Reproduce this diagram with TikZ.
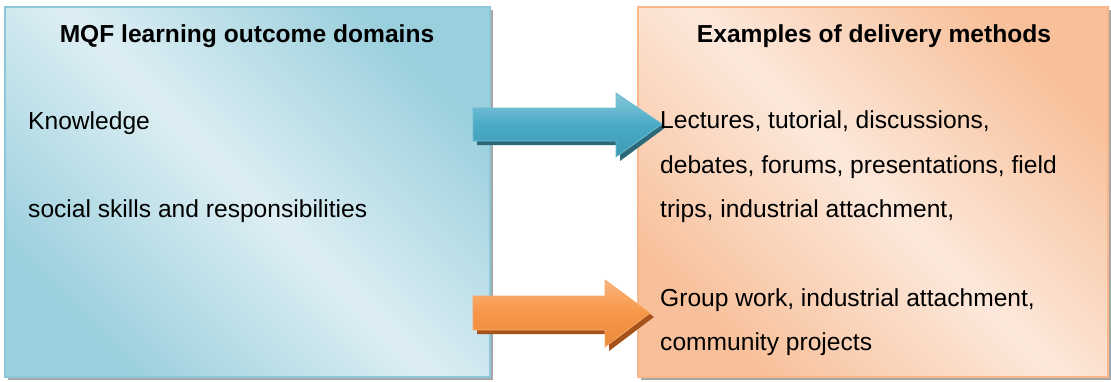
\documentclass[tikz,border=0pt]{standalone}
\usepackage{fontspec}
\setmainfont{Liberation Sans}
\usetikzlibrary{shadings}
\definecolor{bluedark}{HTML}{9ACFDD}
\definecolor{bluelight}{HTML}{DDEEF3}
\definecolor{blueborder}{HTML}{8DC8D8}
\definecolor{orgdark}{HTML}{F8C09A}
\definecolor{orglight}{HTML}{FCE8DB}
\definecolor{orgborder}{HTML}{F6B88C}
\definecolor{barrtop}{HTML}{86C8DA}
\definecolor{barrmid}{HTML}{4AAAC5}
\definecolor{barrbot}{HTML}{3E9AB4}
\definecolor{barrline}{HTML}{6FBDD2}
\definecolor{barrshadow}{HTML}{2C6878}
\definecolor{oarrtop}{HTML}{FAB47E}
\definecolor{oarrmid}{HTML}{F79646}
\definecolor{oarrbot}{HTML}{EC8A3C}
\definecolor{oarrline}{HTML}{F9AA6A}
\definecolor{oarrshadow}{HTML}{A5521B}
\tikzset{
  txt/.style={font=\fontsize{24.6}{30}\selectfont, anchor=base west, inner sep=0pt, text=black},
  ttl/.style={font=\fontsize{24.6}{30}\selectfont\bfseries, anchor=base, inner sep=0pt, text=black},
  boxshadow/.style={fill=black!35, draw=none},
}
\begin{document}
\begin{tikzpicture}[x=1pt,y=-1pt]
\useasboundingbox (0,0) rectangle (1111,381);
% shadows of boxes
\fill[boxshadow] (8,10) rectangle (493,380);
\fill[boxshadow] (641,10) rectangle (1111,380);
% boxes
\node[draw=blueborder, line width=1.2pt, minimum width=485pt, minimum height=370pt, inner sep=0pt,
  top color=bluedark, bottom color=bluedark, middle color=bluelight, shading angle=-45] (L) at (247.5,192) {};
\node[draw=orgborder, line width=1.2pt, minimum width=470pt, minimum height=370pt, inner sep=0pt,
  top color=orgdark, bottom color=orgdark, middle color=orglight, shading angle=-45] (R) at (873,192) {};
% blue arrow
\fill[barrshadow] (477,112) -- (620,112) -- (620,97) -- (666,127) -- (620,161) -- (620,145) -- (477,145) -- cycle;
\draw[barrline, line width=0.8pt, top color=barrtop, bottom color=barrbot, middle color=barrmid]
  (473,108) -- (616,108) -- (616,93) -- (662,124) -- (616,157) -- (616,141) -- (473,141) -- cycle;
% orange arrow
\fill[oarrshadow] (477,300) -- (609,300) -- (609,284) -- (654,317) -- (609,351) -- (609,334) -- (477,334) -- cycle;
\draw[oarrline, line width=0.8pt, top color=oarrtop, bottom color=oarrbot, middle color=oarrmid]
  (473,296) -- (605,296) -- (605,280) -- (650,313) -- (605,347) -- (605,330) -- (473,330) -- cycle;
% titles
\node[ttl] (t1) at (247,42) {MQF learning outcome domains};
\node[ttl] (t2) at (874,42) {Examples of delivery methods};
% left texts
\node[txt] (k) at (28,129) {Knowledge};
\node[txt] (s) at (28,217) {social skills and responsibilities};
% right texts
\node[txt] (r1) at (660,128) {Lectures, tutorial, discussions,};
\node[txt] (r2) at (660,173) {debates, forums, presentations, field};
\node[txt] (r3) at (660,217) {trips, industrial attachment,};
\node[txt] (r4) at (660,306) {Group work, industrial attachment,};
\node[txt] (r5) at (660,350) {community projects};
\end{tikzpicture}
\end{document}
